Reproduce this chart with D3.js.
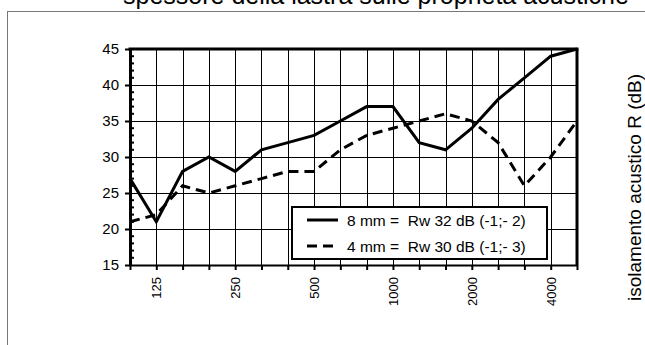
<!DOCTYPE html>
<html><head><meta charset="utf-8">
<script src="https://cdn.jsdelivr.net/npm/d3@7/dist/d3.min.js"></script>
<style>body{margin:0;background:#fff;}svg{display:block;font-family:"Liberation Sans",Arial,sans-serif;}</style>
</head><body>
<script>
const bands = ["100","125","160","200","250","315","400","500","630","800","1000","1250","1600","2000","2500","3150","4000","5000"];
const labeledBands = ["125","250","500","1000","2000","4000"];
const r8mm = [27,21,28,30,28,31,32,33,35,37,37,32,31,34,38,41,44,45];
const r4mm = [21,22,26,25,26,27,28,28,31,33,34,35,36,35,32,26,30,35];
const yTicks = [15,20,25,30,35,40,45];
const legendLabels = ["8 mm =  Rw 32 dB (-1;- 2)", "4 mm =  Rw 30 dB (-1;- 3)"];
const titleText = "spessore della lastra sulle proprietà acustiche";
const yTitle = "isolamento acustico R (dB)";

const W = 645, H = 345;
const svg = d3.select("body").append("svg").attr("width", W).attr("height", H);

// outer frame
svg.append("rect").attr("x", 7.5).attr("y", 11.5).attr("width", 700).attr("height", 400)
  .attr("fill", "none").attr("stroke", "#777").attr("stroke-width", 1);

svg.append("text").attr("x", 123).attr("y", 4).attr("font-size", 25).attr("fill", "#000").text(titleText);

const L = 130, R = 577, T = 49, B = 265;
const x = d3.scalePoint().domain(bands).range([L, R]).padding(0);
const y = d3.scaleLinear().domain([15, 45]).range([B, T]);

const g = svg.append("g");
// grid
g.selectAll(".vg").data(bands.slice(1, -1)).enter().append("line")
  .attr("x1", d => Math.round(x(d)) + 0.5).attr("x2", d => Math.round(x(d)) + 0.5)
  .attr("y1", T).attr("y2", B).attr("stroke", "#000").attr("stroke-width", 1);
g.selectAll(".hg").data(yTicks.slice(1, -1)).enter().append("line")
  .attr("x1", L).attr("x2", R).attr("y1", d => Math.round(y(d)) + 0.5).attr("y2", d => Math.round(y(d)) + 0.5)
  .attr("stroke", "#000").attr("stroke-width", 1);

// x axis ticks
const xAxis = d3.axisBottom(x).tickSizeInner(5).tickSizeOuter(0).tickFormat(d => labeledBands.includes(d) ? d : "");
const xa = svg.append("g").attr("transform", `translate(0,${B})`).call(xAxis);
xa.select(".domain").attr("stroke", "#000").attr("stroke-width", 2);
xa.selectAll(".tick line").attr("stroke", "#000").attr("stroke-width", 2);
xa.selectAll(".tick text").attr("font-size", 13).attr("fill", "#000")
  .attr("transform", "rotate(-90)").attr("text-anchor", "end")
  .attr("x", -12).attr("y", 0).attr("dy", "0.36em");

// y axis
const ya = svg.append("g").attr("transform", `translate(${L},0)`)
  .call(d3.axisLeft(y).tickValues(yTicks).tickSizeInner(5).tickSizeOuter(0).tickPadding(6));
ya.select(".domain").attr("stroke", "#000").attr("stroke-width", 3);
ya.selectAll(".tick line").attr("stroke", "#000").attr("stroke-width", 2);
ya.selectAll(".tick text").attr("font-size", 15).attr("fill", "#000");
// minor ticks inside
const minor = d3.range(16, 45).filter(v => v % 5 !== 0);
svg.append("g").selectAll("line").data(minor).enter().append("line")
  .attr("x1", L).attr("x2", L + 4).attr("y1", d => y(d)).attr("y2", d => y(d))
  .attr("stroke", "#000").attr("stroke-width", 2);

// plot frame top/right
svg.append("line").attr("x1", L - 1.5).attr("x2", R + 1.5).attr("y1", T).attr("y2", T).attr("stroke", "#000").attr("stroke-width", 3);
svg.append("line").attr("x1", R).attr("x2", R).attr("y1", T).attr("y2", B).attr("stroke", "#000").attr("stroke-width", 3);

// series
const line = d3.line().x((d, i) => x(bands[i])).y(d => y(d));
svg.append("path").datum(r8mm).attr("d", line).attr("fill", "none").attr("stroke", "#000")
  .attr("stroke-width", 3).attr("stroke-linejoin", "miter");
svg.append("path").datum(r4mm).attr("d", line).attr("fill", "none").attr("stroke", "#000")
  .attr("stroke-width", 3).attr("stroke-dasharray", "10,6");

// legend
const lg = svg.append("g");
lg.append("rect").attr("x", 292).attr("y", 207).attr("width", 255).attr("height", 52)
  .attr("fill", "#fff").attr("stroke", "#000").attr("stroke-width", 2);
legendLabels.forEach((t, i) => {
  const yy = 220 + i * 26;
  lg.append("line").attr("x1", 307).attr("x2", 338).attr("y1", yy).attr("y2", yy)
    .attr("stroke", "#000").attr("stroke-width", 3).attr("stroke-dasharray", i ? "10,6" : null);
  lg.append("text").attr("x", 347).attr("y", yy).attr("dy", "0.36em").attr("font-size", 15.5)
    .style("white-space", "pre").attr("fill", "#000").text(t);
});

// right y title
svg.append("text").attr("transform", `translate(634,${(48 + 327) / 2}) rotate(-90)`)
  .attr("text-anchor", "middle").attr("dy", "0.36em").attr("font-size", 19).attr("fill", "#000").text(yTitle);
</script>
</body></html>
